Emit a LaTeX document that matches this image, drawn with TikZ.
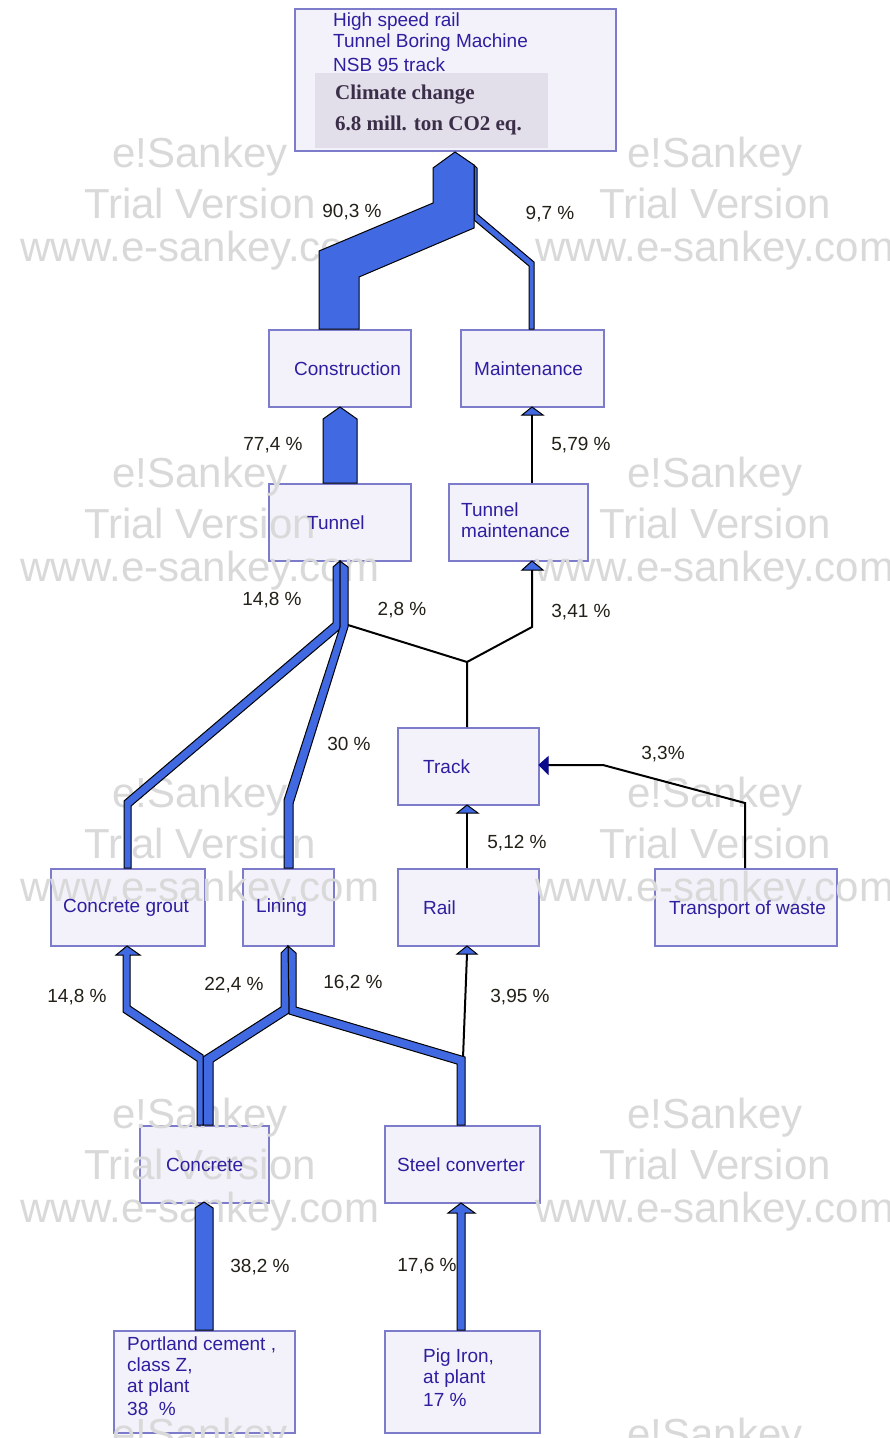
\documentclass[tikz,border=0pt]{standalone}
\usepackage{fontspec}
\setmainfont{Liberation Sans}
\newfontfamily\climfont{Liberation Serif}
\definecolor{boxfill}{HTML}{F3F2FA}
\definecolor{boxline}{HTML}{7C7CCA}
\definecolor{boxtext}{HTML}{2E1EA0}
\definecolor{flowblue}{HTML}{4169E1}
\definecolor{wm}{HTML}{D9D9D9}
\definecolor{climbg}{HTML}{E3DFEA}
\definecolor{climtext}{HTML}{3A2E48}
\definecolor{navyarrow}{HTML}{0A0A8C}
\definecolor{pcttext}{HTML}{222018}
\begin{document}
\begin{tikzpicture}[x=1pt,y=-1pt,
  box/.style={draw=boxline, fill=boxfill, line width=2pt, inner sep=0pt, anchor=north west},
  lbl/.style={text=boxtext, font=\fontsize{19}{22}\selectfont, anchor=west, inner sep=0pt},
  pct/.style={text=pcttext, font=\fontsize{19}{22}\selectfont, anchor=center, inner sep=0pt},
  wmark/.style={text=wm, font=\fontsize{42}{48}\selectfont, anchor=center, inner sep=0pt},
  flow/.style={fill=flowblue, draw=black, line width=1pt, line join=miter},
  thinflow/.style={draw=black, line width=2pt, line join=miter},
  tiphead/.style={fill=flowblue, draw=black, line width=1pt},
  navyhead/.style={fill=navyarrow, draw=navyarrow, line width=1pt}]
\useasboundingbox (0,0) rectangle (890,1438);
\fill[white] (0,0) rectangle (890,1438);

% boxes
\node[box, minimum width=321pt, minimum height=142pt] (top) at (294,8) {};
\node[box, minimum width=142pt, minimum height=77pt] (constr) at (268,329) {};
\node[box, minimum width=143pt, minimum height=77pt] (maint) at (460,329) {};
\node[box, minimum width=142pt, minimum height=77pt] (tunnel) at (268,483) {};
\node[box, minimum width=139pt, minimum height=77pt] (tmaint) at (448,483) {};
\node[box, minimum width=141pt, minimum height=77pt] (track) at (397,727) {};
\node[box, minimum width=154pt, minimum height=77pt] (grout) at (50,868) {};
\node[box, minimum width=91pt, minimum height=77pt] (lining) at (242,868) {};
\node[box, minimum width=141pt, minimum height=77pt] (rail) at (397,868) {};
\node[box, minimum width=182pt, minimum height=77pt] (waste) at (654,868) {};
\node[box, minimum width=129pt, minimum height=77pt] (concrete) at (139,1125) {};
\node[box, minimum width=155pt, minimum height=77pt] (steel) at (384,1125) {};
\node[box, minimum width=181pt, minimum height=102pt] (portland) at (113,1330) {};
\node[box, minimum width=155pt, minimum height=102pt] (pig) at (384,1330) {};
\node[fill=climbg, minimum width=233pt, minimum height=75pt, inner sep=0pt, anchor=north west] (climbg) at (315,73) {};

% watermarks
\begin{scope}
\clip (0,0) rectangle (890,1438);
\foreach \yy [count=\i] in {157,477,797,1118,1438} {
  \foreach \xx [count=\j] in {200,715} {
    \node[wmark] (wa\i\j) at (\xx,\yy) {e!Sankey};
    \node[wmark] (wb\i\j) at (\xx,\yy+46) {Trial Version};
    \node[wmark] (wc\i\j) at (\xx,\yy+94) {www.e-sankey.com};
  }
}
\end{scope}

% junction coordinates
\coordinate (jtrack) at (467,662);
\coordinate (jwaste) at (603,765);
\coordinate (jsteel) at (463,1058);

% top flows
\draw[flow] (474,165) -- (477,168) -- (477,214) -- (534,262) -- (534,329) -- (529,329) -- (529,266) -- (474,220) -- cycle;
\draw[flow] (319,329) -- (319,251) -- (433,203) -- (433,168) -- (455,152) -- (474,165) -- (474,228) -- (359,277) -- (359,329) -- cycle;
% tunnel -> construction
\draw[flow] (323,483) -- (323,419) -- (340,407) -- (357,419) -- (357,483) -- cycle;
% tunnel maintenance -> maintenance
\draw[thinflow] (tmaint.north -| 532,0) -- (532,414);
\draw[tiphead] (522,415) -- (532,407) -- (543,415) -- cycle;
% grout -> tunnel
\draw[flow] (333,567) -- (340,561) -- (340,629) -- (131,806) -- (131,868) -- (124,868) -- (124,801) -- (333,623) -- cycle;
% lining -> tunnel
\draw[flow] (340,561) -- (348,567) -- (348,627) -- (293,804) -- (293,868) -- (284,868) -- (284,800) -- (340,627) -- cycle;
% track -> tunnel & tunnel maintenance
\draw[thinflow] (348,625) -- (jtrack);
\draw[thinflow] (track.north -| jtrack) -- (jtrack) -- (532,627) -- (532,570);
\draw[tiphead] (522,570) -- (532,561) -- (543,570) -- cycle;
% waste -> track
\draw[thinflow] (waste.north -| 745,0) -- (745,803) -- (jwaste) -- (547,765);
\draw[navyhead] (548,757) -- (539,765) -- (548,774) -- cycle;
% rail -> track
\draw[thinflow] (rail.north -| 467,0) -- (467,812);
\draw[tiphead] (457,813) -- (467,805) -- (478,813) -- cycle;
% steel -> rail
\draw[thinflow] (jsteel) -- (467,954);
\draw[tiphead] (457,954) -- (467,946) -- (477,954) -- cycle;
% steel -> lining
\draw[flow] (288,946) -- (296,953) -- (296,1007) -- (465,1057) -- (465,1125) -- (457,1125) -- (457,1064) -- (289,1014) -- cycle;
% concrete -> lining
\draw[flow] (288,946) -- (289,1013) -- (213,1062) -- (213,1125) -- (203,1125) -- (203,1057) -- (281,1007) -- (281,953) -- cycle;
% concrete -> grout
\draw[flow] (123,955) -- (116,955) -- (127,946) -- (140,955) -- (130,955) -- (130,1006) -- (203,1055) -- (203,1125) -- (197,1125) -- (197,1061) -- (123,1012) -- cycle;
% portland -> concrete
\draw[flow] (195,1330) -- (195,1208) -- (204,1202) -- (213,1208) -- (213,1330) -- cycle;
% pig iron -> steel
\draw[flow] (457,1330) -- (457,1213) -- (448,1213) -- (461,1203) -- (475,1213) -- (465,1213) -- (465,1330) -- cycle;

% top box texts
\node[lbl] (t1) at (333,22) {High speed rail};
\node[lbl] (t2) at (333,43) {Tunnel Boring Machine};
\node[lbl] (t3) at (333,65) {NSB 95 track};
\node[anchor=west, inner sep=0pt, text=climtext, font=\climfont\bfseries\fontsize{21}{24}\selectfont] (c1) at (335,95) {Climate change};
\node[anchor=west, inner sep=0pt, text=climtext, font=\climfont\bfseries\fontsize{21}{24}\selectfont] (c2) at (335,125) {6.8 mill. ton CO2 eq.};

% box labels
\node[lbl] (lconstr) at (294,369) {Construction};
\node[lbl] (lmaint) at (474,369) {Maintenance};
\node[lbl] (ltunnel) at (307,523) {Tunnel};
\node[lbl] (ltm1) at (461,510) {Tunnel};
\node[lbl] (ltm2) at (461,531) {maintenance};
\node[lbl] (ltrack) at (423,767) {Track};
\node[lbl] (lgrout) at (63,908) {Concrete grout};
\node[lbl] (llining) at (256,908) {Lining};
\node[lbl] (lrail) at (423,908) {Rail};
\node[lbl] (lwaste) at (669,910) {Transport of waste};
\node[lbl] (lconcrete) at (166,1165) {Concrete};
\node[lbl] (lsteel) at (397,1165) {Steel converter};
\node[lbl] (lp1) at (127,1345) {Portland cement ,};
\node[lbl] (lp2) at (127,1366) {class Z,};
\node[lbl] (lp3) at (127,1388) {at plant};
\node[lbl] (lp4) at (127,1409) {38\ \ \%};
\node[lbl] (lg1) at (423,1358) {Pig Iron,};
\node[lbl] (lg2) at (423,1379) {at plant};
\node[lbl] (lg3) at (423,1400) {17 \%};

% percentages
\node[pct] (p1) at (352,212) {90,3 \%};
\node[pct] (p2) at (550,214) {9,7 \%};
\node[pct] (p3) at (273,445) {77,4 \%};
\node[pct] (p4) at (581,445) {5,79 \%};
\node[pct] (p5) at (272,600) {14,8 \%};
\node[pct] (p6) at (402,610) {2,8 \%};
\node[pct] (p7) at (581,612) {3,41 \%};
\node[pct] (p8) at (349,744) {30 \%};
\node[pct] (p9) at (663,754) {3,3\%};
\node[pct] (p10) at (517,843) {5,12 \%};
\node[pct] (p11) at (77,997) {14,8 \%};
\node[pct] (p12) at (234,985) {22,4 \%};
\node[pct] (p13) at (353,983) {16,2 \%};
\node[pct] (p14) at (520,997) {3,95 \%};
\node[pct] (p15) at (260,1267) {38,2 \%};
\node[pct] (p16) at (427,1266) {17,6 \%};
\end{tikzpicture}
\end{document}
